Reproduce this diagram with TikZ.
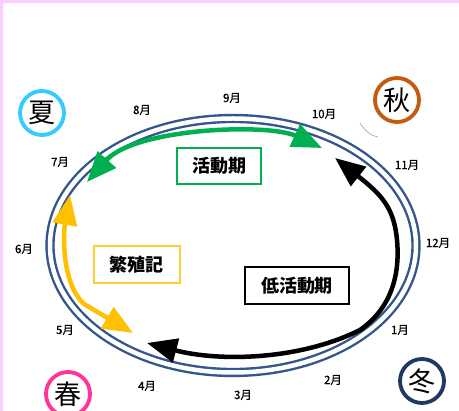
\documentclass[tikz,border=0pt]{standalone}
\usepackage{fontspec}
\setmainfont{Noto Sans CJK JP}
\newfontfamily\monthfont[FakeBold=0.8]{Noto Sans CJK JP}
\usetikzlibrary{arrows.meta}
\definecolor{pinkbg}{RGB}{255,204,255}
\definecolor{ringblue}{RGB}{52,86,140}
\definecolor{agreen}{RGB}{0,176,80}
\definecolor{ayellow}{RGB}{255,192,0}
\definecolor{byellow}{RGB}{255,204,51}
\definecolor{summerc}{RGB}{51,204,255}
\definecolor{autumnc}{RGB}{197,90,17}
\definecolor{springc}{RGB}{255,51,153}
\definecolor{winterc}{RGB}{31,56,100}
\definecolor{faintblue}{RGB}{120,170,220}
\tikzset{
  month/.style={font=\monthfont\fontsize{11.5}{12}\selectfont, inner sep=0pt},
  season/.style={circle, line width=3.8pt, minimum size=44pt, inner sep=0pt, font=\fontsize{27}{28}\selectfont},
  labelbox/.style={draw, line width=2.2pt, inner sep=0pt, font=\fontsize{18}{19}\bfseries\selectfont},
  bigarrow/.style={line width=4.5pt, {Triangle[length=30pt,width=24pt]}-{Triangle[length=30pt,width=24pt]}},
}
\begin{document}
\begin{tikzpicture}[x=1pt,y=-1pt]
\useasboundingbox (0,0) rectangle (459,411);
\fill[white] (0,0) rectangle (459,411);
\fill[pinkbg] (0,0) rectangle (459,3);
\fill[pinkbg] (0,0) rectangle (3,411);
% ring
\draw[ringblue, line width=2.4pt, double=white, double distance=4.5pt] (233,245.5) ellipse [x radius=183, y radius=127];
% faint arc near autumn
\draw[faintblue, line width=0.6pt] (360,123) .. controls (365,131) and (371,136) .. (378,137);
% seasons
\node[season, draw=summerc] (summer) at (42,113) {夏};
\node[season, draw=autumnc] (autumn) at (397,100) {秋};
\node[season, draw=springc] (spring) at (68,394) {春};
\node[season, draw=winterc] (winter) at (422,381) {冬};
% months
\node[month] (m8) at (142,110) {8月};
\node[month] (m9) at (232,98) {9月};
\node[month] (m10) at (324,114) {10月};
\node[month] (m11) at (407,165) {11月};
\node[month] (m12) at (438,243) {12月};
\node[month] (m1) at (400,330) {1月};
\node[month] (m2) at (333,380) {2月};
\node[month] (m3) at (243,395) {3月};
\node[month] (m4) at (147,386) {4月};
\node[month] (m5) at (65,330) {5月};
\node[month] (m6) at (24,249) {6月};
\node[month] (m7) at (60,162) {7月};
% label boxes
\node[labelbox, draw=agreen, minimum width=84pt, minimum height=36pt] (active) at (219,166) {活動期};
\node[labelbox, draw=byellow, minimum width=86pt, minimum height=37pt] (breed) at (137,264.5) {繁殖記};
\node[labelbox, draw=black, minimum width=104pt, minimum height=37pt] (low) at (297,285.5) {低活動期};
% arrows
\coordinate (gA) at (87,182);
\coordinate (gB) at (322,148);
\draw[bigarrow, agreen] (gA) .. controls (135,128) and (268,123) .. (gB);
\coordinate (yA) at (70,195);
\coordinate (yM) at (84,304);
\coordinate (yB) at (133,333);
\draw[bigarrow, ayellow] (yA) .. controls (63,235) and (62,284) .. (yM) -- (yB);
\coordinate (kA) at (147,343);
\coordinate (kM1) at (360,330);
\coordinate (kM2) at (397,240);
\coordinate (kB) at (335,158);
\draw[bigarrow, black] (kA) .. controls (220,362) and (300,360) .. (kM1) .. controls (393,307) and (400,272) .. (kM2) .. controls (394,208) and (382,195) .. (kB);
\end{tikzpicture}
\end{document}
